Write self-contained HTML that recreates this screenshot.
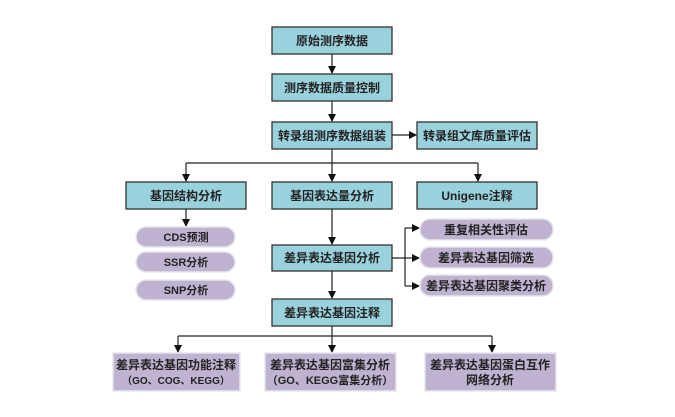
<!DOCTYPE html>
<html><head><meta charset="utf-8"><style>
html,body{margin:0;padding:0;background:#fff;width:675px;height:417px;overflow:hidden}
text{font-family:"Liberation Sans","Noto Sans CJK SC",sans-serif;font-weight:bold;font-size:12px;fill:#222;text-anchor:middle}
.t{fill:#99d1dc;stroke:#333;stroke-width:1.3}
.p{fill:#c0b3d1;stroke:#e6e6ee;stroke-width:1.5}
.l{stroke:#222;stroke-width:1.2;fill:none}
</style></head><body>
<svg width="675" height="417" viewBox="0 0 675 417">
<defs><marker id="a" markerWidth="8" markerHeight="8" refX="7" refY="4" orient="auto" markerUnits="userSpaceOnUse"><path d="M0,0 L8,4 L0,8z" fill="#111"/></marker></defs>
<rect class="t" x="272" y="27" width="120" height="27"/><text x="332" y="45">原始测序数据</text>
<rect class="t" x="272" y="74" width="120" height="27"/><text x="332" y="92">测序数据质量控制</text>
<rect class="t" x="272" y="122" width="120" height="27"/><text x="332" y="140">转录组测序数据组装</text>
<rect class="t" x="417" y="122" width="120" height="27"/><text x="477" y="140">转录组文库质量评估</text>
<line class="l" x1="332" y1="54" x2="332" y2="73" marker-end="url(#a)"/>
<line class="l" x1="332" y1="101" x2="332" y2="121" marker-end="url(#a)"/>
<line class="l" x1="392" y1="135" x2="416" y2="135" marker-end="url(#a)"/>
<path class="l" d="M332 149 V163 M186 163 H478"/>
<line class="l" x1="186" y1="163" x2="186" y2="181" marker-end="url(#a)"/>
<line class="l" x1="332" y1="163" x2="332" y2="181" marker-end="url(#a)"/>
<line class="l" x1="478" y1="163" x2="478" y2="181" marker-end="url(#a)"/>
<rect class="t" x="126" y="182" width="120" height="27"/><text x="186" y="200">基因结构分析</text>
<rect class="t" x="272" y="182" width="120" height="27"/><text x="332" y="200">基因表达量分析</text>
<rect class="t" x="417" y="182" width="120" height="27"/><text x="477" y="200">Unigene注释</text>
<line class="l" x1="186" y1="209" x2="186" y2="226" marker-end="url(#a)"/>
<rect class="p" x="136" y="227" width="99" height="20" rx="10"/><text x="186" y="241" style="font-size:11px">CDS预测</text>
<rect class="p" x="136" y="252" width="99" height="20" rx="10"/><text x="186" y="266" style="font-size:11px">SSR分析</text>
<rect class="p" x="136" y="280" width="99" height="20" rx="10"/><text x="186" y="294" style="font-size:11px">SNP分析</text>
<line class="l" x1="332" y1="209" x2="332" y2="244" marker-end="url(#a)"/>
<rect class="t" x="272" y="245" width="120" height="26"/><text x="332" y="262">差异表达基因分析</text>
<path class="l" d="M392 258 H405 M405 228 V286"/>
<line class="l" x1="405" y1="228" x2="419" y2="228" marker-end="url(#a)"/>
<line class="l" x1="405" y1="258" x2="419" y2="258" marker-end="url(#a)"/>
<line class="l" x1="405" y1="286" x2="419" y2="286" marker-end="url(#a)"/>
<rect class="p" x="420" y="219" width="133" height="21" rx="10"/><text x="486" y="234">重复相关性评估</text>
<rect class="p" x="420" y="247" width="133" height="21" rx="10"/><text x="486" y="262">差异表达基因筛选</text>
<rect class="p" x="420" y="275" width="133" height="21" rx="10"/><text x="486" y="290">差异表达基因聚类分析</text>
<line class="l" x1="332" y1="271" x2="332" y2="298" marker-end="url(#a)"/>
<rect class="t" x="272" y="299" width="120" height="27"/><text x="332" y="317">差异表达基因注释</text>
<path class="l" d="M332 326 V336 M178 336 H492"/>
<line class="l" x1="178" y1="336" x2="178" y2="352" marker-end="url(#a)"/>
<line class="l" x1="332" y1="336" x2="332" y2="352" marker-end="url(#a)"/>
<line class="l" x1="492" y1="336" x2="492" y2="352" marker-end="url(#a)"/>
<rect class="p" x="113" y="353" width="127" height="38"/><text x="176" y="369">差异表达基因功能注释</text><text x="176" y="384" style="font-size:10px">（GO、COG、KEGG）</text>
<rect class="p" x="265" y="353" width="131" height="38"/><text x="330" y="369">差异表达基因富集分析</text><text x="330" y="384" style="font-size:11px">（GO、KEGG富集分析）</text>
<rect class="p" x="425" y="353" width="131" height="38"/><text x="490" y="369">差异表达基因蛋白互作</text><text x="490" y="384">网络分析</text>
</svg>
</body></html>
